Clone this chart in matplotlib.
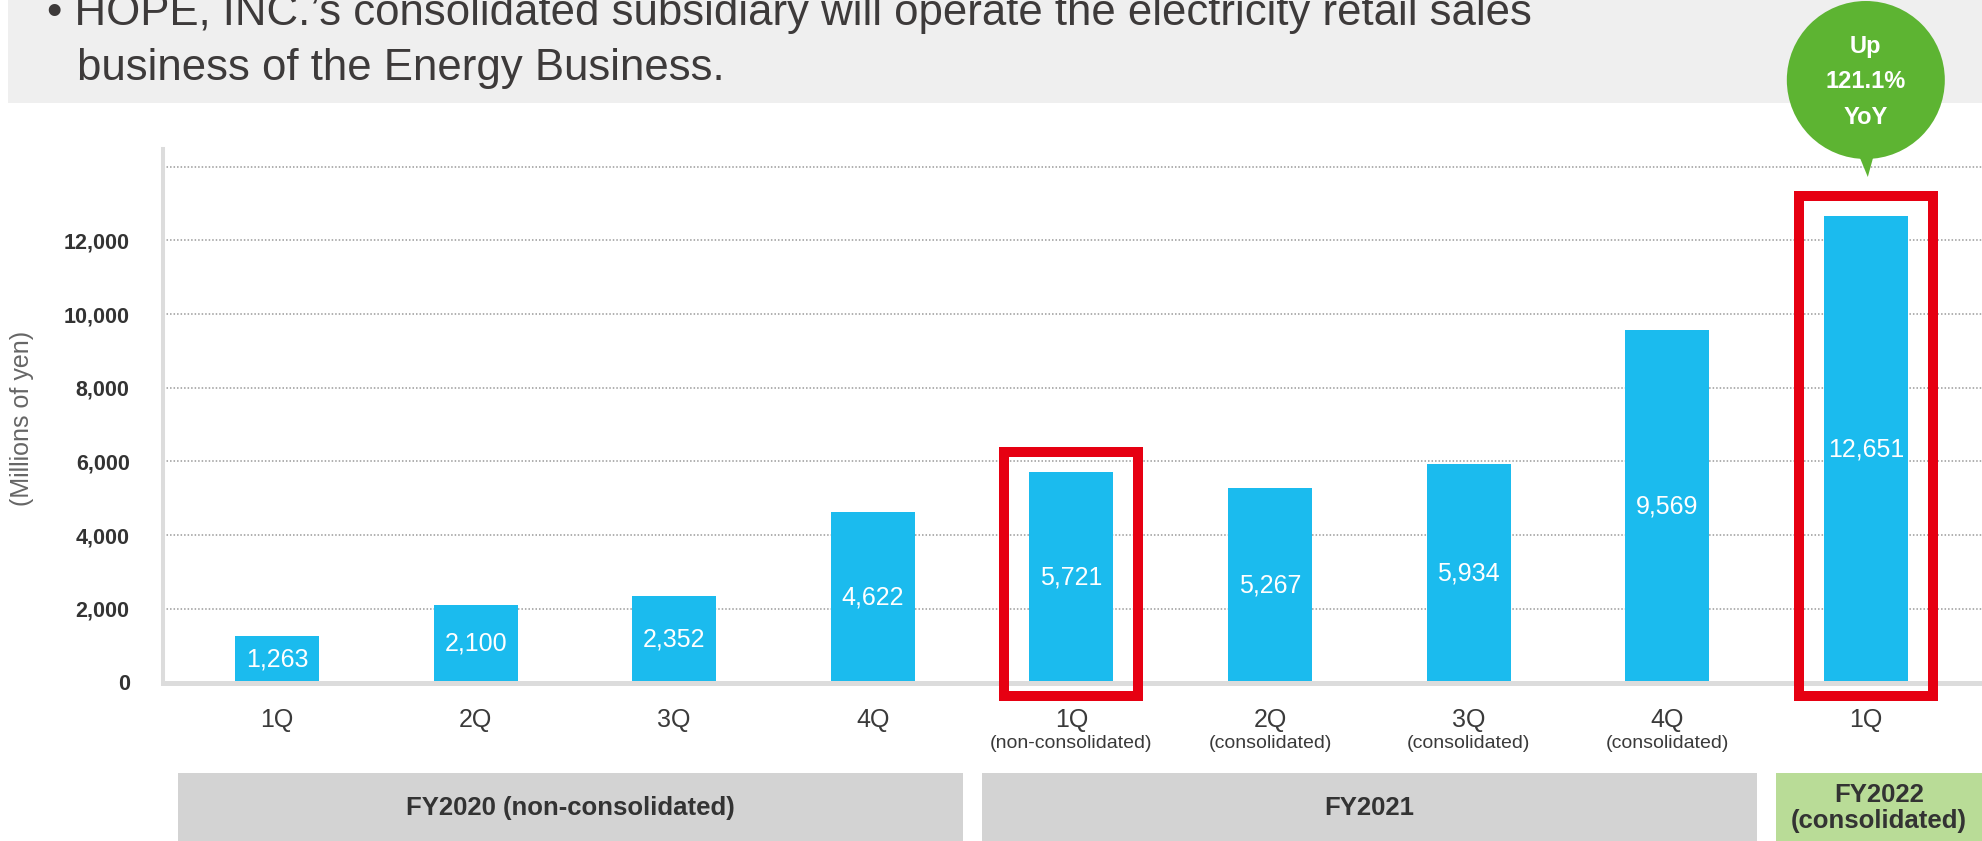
import matplotlib.pyplot as plt
from matplotlib import transforms
from matplotlib.patches import Rectangle, Ellipse, Polygon

plt.rcParams['font.family'] = ['Liberation Sans', 'DejaVu Sans']

# quarterly sales of the energy business
quarters = ['1Q', '2Q', '3Q', '4Q', '1Q', '2Q', '3Q', '4Q', '1Q']
scopes = ['', '', '', '', '(non-consolidated)', '(consolidated)',
          '(consolidated)', '(consolidated)', '']
sales = [1263, 2100, 2352, 4622, 5721, 5267, 5934, 9569, 12651]
highlight = [4, 8]

fiscal_years = ['FY2020 (non-consolidated)', 'FY2021', 'FY2022\n(consolidated)']
year_spans = [(0, 3), (4, 7), (8, 8)]
year_colors = ['#d3d3d3', '#d3d3d3', '#b9dc97']

yticks = [0, 2000, 4000, 6000, 8000, 10000, 12000, 14000]
bubble_lines = ['Up', '121.1%', 'YoY']
headline = ['\u2022 HOPE, INC.\u2019s consolidated subsidiary will operate the electricity retail sales',
            'business of the Energy Business.']

W, H = 1982, 841
fig = plt.figure(figsize=(W / 100, H / 100), dpi=100)
ax = fig.add_axes([163 / W, (H - 682.5) / H, (W - 163) / W, (682.5 - 149) / H])

xlim = (-0.574, 8.585)
unit_px = (W - 163) / (xlim[1] - xlim[0])

x = list(range(len(sales)))
bars = ax.bar(x, sales, width=0.423, color='#1bbbee', zorder=2)
ax.bar_label(bars, labels=[f'{v:,}' for v in sales], label_type='center',
             color='white', fontsize=18)

ax.set_xlim(*xlim)
ax.set_ylim(0, 14480)
ax.set_yticks(yticks, [f'{v:,}' if v < 14000 else '' for v in yticks])
ax.set_xticks(x, quarters)
ax.tick_params(axis='both', length=0)
ax.tick_params(axis='x', pad=18, labelsize=18, labelcolor='#3a3a3a')
ax.tick_params(axis='y', pad=24, labelsize=15.5, labelcolor='#333333')
for lab in ax.get_yticklabels():
    lab.set_fontweight('bold')
ax.yaxis.grid(True, color='#9a9a9a', linestyle=(0, (1, 1.3)), linewidth=1.1)
ax.set_axisbelow(True)

for side in ['top', 'right']:
    ax.spines[side].set_visible(False)
ax.spines['left'].set_color('#dcdcdc')
ax.spines['left'].set_linewidth(2.9)
ax.spines['bottom'].set_color('#dcdcdc')
ax.spines['bottom'].set_linewidth(3.6)

fig.text(22 / W, (H - 418) / H, '(Millions of yen)', rotation=90,
         ha='center', va='center', fontsize=18, color='#666666')

bt = transforms.blended_transform_factory(ax.transData, fig.transFigure)

# second line under the quarter labels
for i, s in enumerate(scopes):
    if s:
        ax.text(i, (H - 743) / H, s, transform=bt, ha='center', va='center',
                fontsize=14, color='#3a3a3a')

# red frames around the highlighted quarters
for i in highlight:
    ax.add_patch(Rectangle((i - 0.337, -370), 0.674, sales[i] + 540 + 370,
                           fill=False, edgecolor='#e60012', linewidth=7.2,
                           joinstyle='miter', clip_on=False, zorder=3))

# fiscal year bands along the bottom
gap = 0.048
for (a, b), name, color in zip(year_spans, fiscal_years, year_colors):
    left = a - 0.5 + (gap if a > 0 else 0)
    right = b + 0.5 - gap if b < len(sales) - 1 else xlim[1]
    ax.add_patch(Rectangle((left, 0), right - left, (H - 773) / H, transform=bt,
                           facecolor=color, edgecolor='none', clip_on=False))
    ax.text((left + right) / 2, (H - 808) / H, name, transform=bt,
            ha='center', va='center', fontsize=18.5, fontweight='bold',
            color='#333333', linespacing=1.15)

# YoY speech bubble over the latest quarter
ix = highlight[-1]
ax.add_patch(Ellipse((ix, (H - 80) / H), 2 * 79 / unit_px, 158 / H, transform=bt,
                     facecolor='#5db432', edgecolor='none', clip_on=False, zorder=5))
ax.add_patch(Polygon([(ix - 0.05, (H - 148) / H), (ix + 0.05, (H - 148) / H),
                      (ix + 0.01, (H - 177) / H)], closed=True, transform=bt,
                     facecolor='#5db432', edgecolor='none', clip_on=False, zorder=5))
for line, ypx in zip(bubble_lines, [47, 82, 117]):
    ax.text(ix, (H - ypx) / H, line, transform=bt, ha='center', va='center',
            color='white', fontsize=17, fontweight='bold', zorder=6)

# headline banner
fig.add_artist(Rectangle((8 / W, (H - 103) / H), 1 - 8 / W, 103 / H,
                         transform=fig.transFigure, facecolor='#efefef',
                         edgecolor='none', zorder=-1))
fig.text(47 / W, (H - 25) / H, headline[0], va='baseline', fontsize=31.5, color='#3d3a3a')
fig.text(77 / W, (H - 80) / H, headline[1], va='baseline', fontsize=31.5, color='#3d3a3a')

fig.savefig('out.png', dpi=100)
